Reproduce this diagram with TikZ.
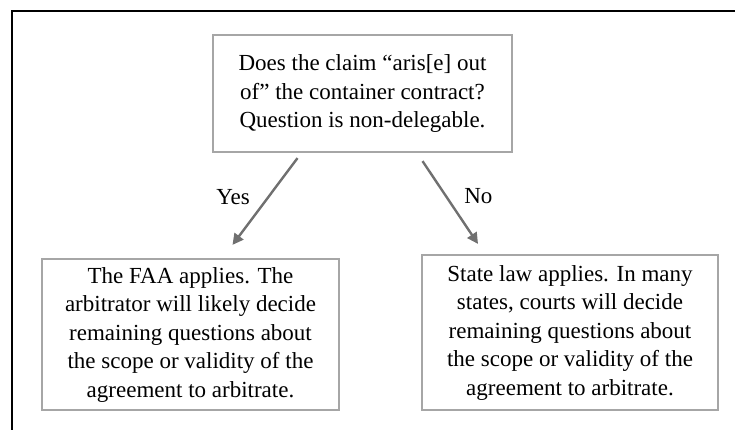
\documentclass[tikz,border=0pt]{standalone}
\usepackage{fontspec}
\setmainfont{Liberation Serif}
\usetikzlibrary{arrows.meta, positioning}
\definecolor{randgrijs}{RGB}{166,166,166}
\definecolor{pijlgrijs}{RGB}{112,112,112}
\tikzset{
    kader/.style={draw=randgrijs, line width=2.2pt, align=center, inner sep=0pt,
        font=\fontsize{23}{28.5}\selectfont},
    pijl/.style={draw=pijlgrijs, line width=2.4pt, -{Triangle[length=11pt,width=11pt]}},
    etiket/.style={font=\fontsize{23}{28.5}\selectfont},
}
\begin{document}
\begin{tikzpicture}[x=1pt, y=-1pt]
\useasboundingbox (0,0) rectangle (735,429);

% kader rond de figuur
\draw[line width=2pt] (11.5,440) -- (11.5,10.5) -- (745,10.5);

% vraag bovenaan
\node[kader, minimum width=299pt, minimum height=117pt] (vraag) at (362.5,93.5)
    {Does the claim “aris[e] out\\ of” the container contract?\\ Question is non-delegable.};

% twee uitkomsten
\node[kader, minimum width=297pt, minimum height=151pt] (faa) at (190.5,334.5)
    {The FAA applies. The\\ arbitrator will likely decide\\ remaining questions about\\ the scope or validity of the\\ agreement to arbitrate.};
\node[kader, minimum width=296pt, minimum height=155pt] (staat) at (570,332.5)
    {State law applies. In many\\ states, courts will decide\\ remaining questions about\\ the scope or validity of the\\ agreement to arbitrate.};

\draw[pijl] ([xshift=-65pt,yshift=-5pt]vraag.south) -- ([xshift=42pt,yshift=13pt]faa.north)
    node[etiket, pos=0.45, left=14pt] (ja) {Yes};
\draw[pijl] ([xshift=60pt,yshift=-8pt]vraag.south) -- ([xshift=-92pt,yshift=10pt]staat.north)
    node[etiket, pos=0.42, right=14pt] (nee) {No};
\end{tikzpicture}
\end{document}
